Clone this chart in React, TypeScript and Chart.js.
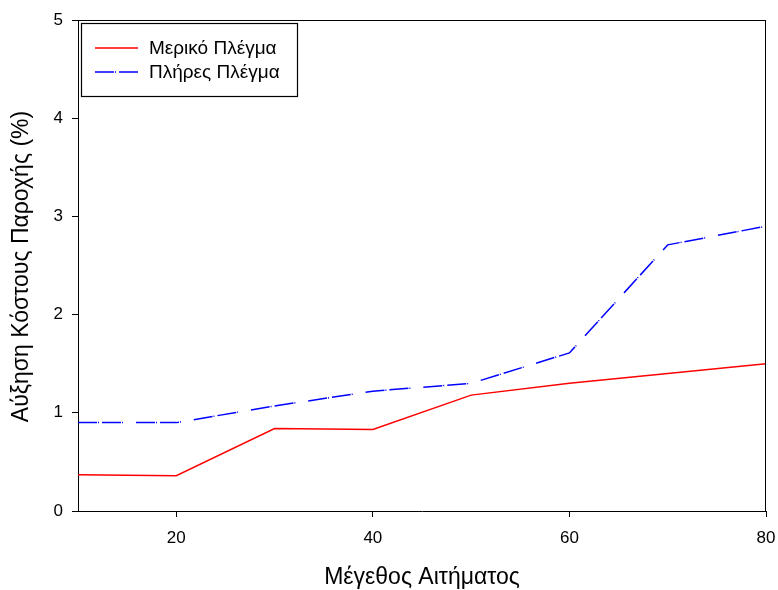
import React, { useEffect, useRef } from "react";
import { Chart, registerables } from "chart.js";

Chart.register(...registerables);

const requestSizes = [10, 20, 30, 40, 50, 60, 70, 80];
const partialGrid = [0.37, 0.36, 0.84, 0.83, 1.18, 1.3, 1.4, 1.5];
const fullGrid = [0.9, 0.9, 1.07, 1.22, 1.3, 1.61, 2.71, 2.9];
const xTicks = [20, 40, 60, 80];
const seriesLabels = ["Μερικό Πλέγμα", "Πλήρες Πλέγμα"];
const xTitle = "Μέγεθος Αιτήματος";
const yTitle = "Αύξηση Κόστους Παροχής (%)";

const FONT = "'Liberation Sans', Arial, sans-serif";
const BLUE_DASH = [19, 1, 1, 3, 19, 1, 1, 13];

const framePlugin = {
  id: "frame",
  afterDraw(chart: any) {
    const { ctx, chartArea } = chart;
    const { left, right, top, bottom } = chartArea;
    ctx.save();
    ctx.strokeStyle = "#000";
    ctx.lineWidth = 1;
    ctx.beginPath();
    ctx.moveTo(left, top + 0.5);
    ctx.lineTo(right, top + 0.5);
    ctx.moveTo(right - 0.5, top);
    ctx.lineTo(right - 0.5, bottom);
    ctx.stroke();

    // legend
    const lx = left + 3, ly = top + 3, lw = 216, lh = 73;
    ctx.fillStyle = "#fff";
    ctx.fillRect(lx, ly, lw, lh);
    ctx.lineWidth = 1.2;
    ctx.strokeRect(lx + 0.5, ly + 0.5, lw, lh);
    ctx.font = `19px ${FONT}`;
    ctx.textBaseline = "middle";
    ctx.textAlign = "left";
    const rows = [
      { label: seriesLabels[0], color: "#ff0000", dash: [] as number[], y: ly + 25 },
      { label: seriesLabels[1], color: "#0000ff", dash: [19, 1, 1, 3, 19, 1], y: ly + 49 },
    ];
    rows.forEach((r) => {
      ctx.strokeStyle = r.color;
      ctx.lineWidth = 1.5;
      ctx.setLineDash(r.dash);
      ctx.beginPath();
      ctx.moveTo(lx + 14, r.y);
      ctx.lineTo(lx + 57, r.y);
      ctx.stroke();
      ctx.setLineDash([]);
      ctx.fillStyle = "#000";
      ctx.fillText(r.label, lx + 68, r.y + 1);
    });

    // axis titles
    ctx.fillStyle = "#000";
    ctx.font = `23px ${FONT}`;
    ctx.textAlign = "center";
    ctx.textBaseline = "middle";
    ctx.fillText(xTitle, (left + right) / 2, 578);
    ctx.save();
    ctx.translate(22, (top + bottom) / 2 + 1);
    ctx.rotate(-Math.PI / 2);
    ctx.fillText(yTitle, 0, 0);
    ctx.restore();
    ctx.restore();
  },
};

export default function App() {
  const ref = useRef<HTMLCanvasElement | null>(null);
  useEffect(() => {
    if (!ref.current) return;
    const chart = new Chart(ref.current, {
      type: "line",
      data: {
        labels: requestSizes,
        datasets: [
          {
            label: seriesLabels[0],
            data: requestSizes.map((x, i) => ({ x, y: partialGrid[i] })),
            borderColor: "#ff0000",
            borderWidth: 1.5,
            pointRadius: 0,
            tension: 0,
            fill: false,
          },
          {
            label: seriesLabels[1],
            data: requestSizes.map((x, i) => ({ x, y: fullGrid[i] })),
            borderColor: "#0000ff",
            borderWidth: 1.5,
            borderDash: BLUE_DASH,
            pointRadius: 0,
            tension: 0,
            fill: false,
          },
        ],
      },
      options: {
        animation: false,
        responsive: false,
        devicePixelRatio: 1,
        layout: { padding: { left: 0, right: 12, top: 20, bottom: 0 } },
        plugins: { legend: { display: false }, tooltip: { enabled: false } },
        scales: {
          x: {
            type: "linear",
            min: 10,
            max: 80,
            afterBuildTicks: (scale: any) => {
              scale.ticks = xTicks.map((v) => ({ value: v }));
            },
            afterFit: (scale: any) => {
              scale.height = 79;
              scale.paddingRight = 0;
              scale.paddingLeft = 0;
            },
            grid: { drawOnChartArea: false, drawTicks: true, tickLength: 6, color: "#000", lineWidth: 1 },
            border: { display: true, color: "#000", width: 1 },
            ticks: { color: "#000", font: { family: FONT, size: 17 }, padding: 11, maxRotation: 0 },
          },
          y: {
            type: "linear",
            min: 0,
            max: 5,
            afterFit: (scale: any) => {
              scale.width = 78;
              scale.paddingTop = 0;
              scale.paddingBottom = 0;
            },
            grid: { drawOnChartArea: false, drawTicks: true, tickLength: 6, color: "#000", lineWidth: 1 },
            border: { display: true, color: "#000", width: 1 },
            ticks: { color: "#000", font: { family: FONT, size: 17 }, padding: 9, stepSize: 1 },
          },
        },
      },
      plugins: [framePlugin],
    } as any);
    return () => chart.destroy();
  }, []);
  return (
    <div style={{ position: "absolute", left: 0, top: 0, width: 778, height: 590 }}>
      <canvas ref={ref} width={778} height={590} style={{ width: 778, height: 590 }} />
    </div>
  );
}
